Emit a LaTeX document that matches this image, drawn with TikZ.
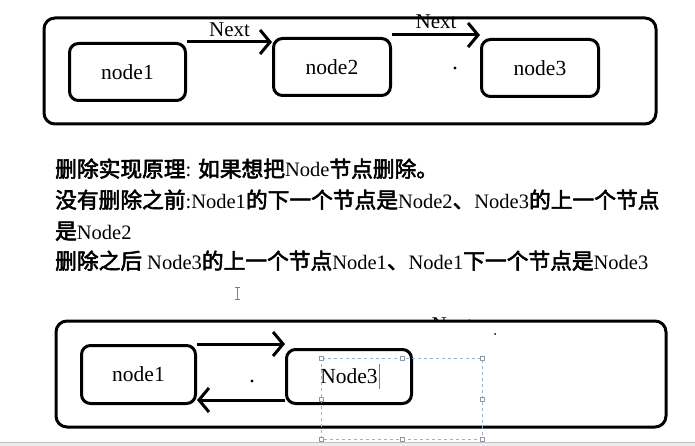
\documentclass[tikz,border=0pt]{standalone}
\usepackage{fontspec}
\setmainfont{Liberation Serif}
\newfontfamily\cjk{Noto Sans CJK SC}[Scale=1.06, FakeBold=2.6]
\usetikzlibrary{arrows.meta}
\newcommand\zh[1]{{\cjk #1}}
\definecolor{selblue}{HTML}{9CAED2}
\definecolor{handlegray}{HTML}{8E98AA}

\begin{document}
\begin{tikzpicture}[x=1pt, y=-1pt, line join=round,
        frame/.style={draw, line width=3pt, rounded corners=11pt, fill=white},
        elem/.style={draw, line width=3pt, rounded corners=9pt, font=\fontsize{21.5}{24}\selectfont},
        link/.style={line width=3pt, -{Straight Barb[length=10pt, width=24pt]}},
        linelbl/.style={font=\fontsize{21}{24}\selectfont},
        note/.style={anchor=base west, inner sep=0pt, font=\fontsize{20.5}{24}\selectfont},
        handle/.style={draw=handlegray, fill=white, line width=0.5pt, minimum size=3.5pt, inner sep=0pt}]
        \useasboundingbox (0,0) rectangle (695,446);

        \node[frame, minimum width=612pt, minimum height=106pt] (upper) at (350,71) {};
        \node[elem, minimum width=116pt, minimum height=57pt] (n1) at (127.5,72) {node1};
        \node[elem, minimum width=117pt, minimum height=57pt] (n2) at (332,67) {node2};
        \node[elem, minimum width=117pt, minimum height=57pt] (n3) at (540,68) {node3};
        \draw[link] (n1.north east) -- (n1.north east -| n2.west) node[linelbl, midway, above=0pt] {Next};
        \draw[link] ([yshift=2pt]n2.north east) -- ([yshift=2pt]n2.north east -| n3.west) node[linelbl, midway, above=1pt] {Next};
        \fill (455,68) circle (1.6pt);

        \node[note] (l1) at (55,177) {\zh{删除实现原理}: \zh{如果想把}Node\zh{节点删除。}};
        \node[note] (l2) at (55,208) {\zh{没有删除之前}:Node1\zh{的下一个节点是}Node2\zh{、}Node3\zh{的上一个节点}};
        \node[note] (l3) at (55,239) {\zh{是}Node2};
        \node[note] (l4) at (55,269) {\zh{删除之后} Node3\zh{的上一个节点}Node1\zh{、}Node1\zh{下一个节点是}Node3};

        \draw[gray, line width=1pt] (237,287) -- (237,299);
        \draw[gray, line width=0.8pt] (234.5,287) -- (239.5,287) (234.5,299) -- (239.5,299);

        \node[linelbl, anchor=base] (cutnext) at (452,331) {Next};
        \node[frame, minimum width=610pt, minimum height=106pt] (lower) at (361,374) {};
        \fill (495,334) circle (1pt);
        \node[elem, minimum width=114pt, minimum height=58pt] (m1) at (138.5,374.5) {node1};
        \node[elem, minimum width=125pt, minimum height=54pt] (m3) at (349,376.5) {Node3};
        \draw[link] (m1.north east) -- (m1.north east -| m3.west);
        \draw[link] ([yshift=5pt]m3.south west) -- ([yshift=5pt]m3.south west -| m1.east);
        \fill (252,381) circle (1.6pt);

        \draw[gray, line width=0.6pt] (379,364) -- (379,389);
        \draw[selblue, dashed, line width=0.7pt] (321,358) rectangle (482,439);
        \foreach \hx/\hy in {321/358, 402/358, 482/358, 321/399, 482/399, 321/439, 402/439, 482/439}
            \node[handle] (grip-\hx-\hy) at (\hx,\hy) {};

        \fill[gray!15] (0,442) rectangle (695,446);
        \draw[gray!50, line width=0.8pt] (0,442) -- (695,442);
    \end{tikzpicture}
\end{document}
